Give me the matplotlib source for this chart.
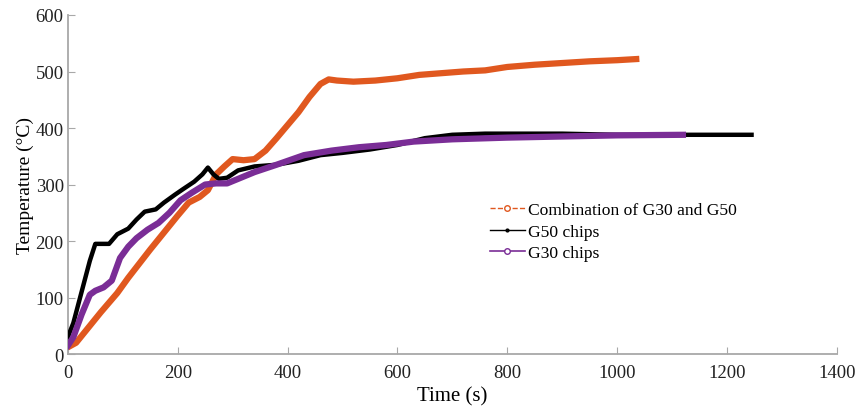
import matplotlib.pyplot as plt
from matplotlib.lines import Line2D

# Combination of G30 and G50
t_comb = [0, 15, 30, 60, 90, 110, 130, 150, 175, 200, 220, 240, 255, 270, 285, 300, 320,
          340, 360, 380, 400, 420, 440, 460, 475, 490, 520, 560, 600, 640, 680, 720, 760,
          800, 850, 900, 950, 1000, 1035]
T_comb = [12, 20, 38, 74, 108, 135, 160, 185, 215, 245, 268, 278, 290, 318, 332, 345, 343,
          345, 360, 382, 405, 428, 455, 478, 486, 484, 482, 484, 488, 494, 497, 500, 502,
          508, 512, 515, 518, 520, 522]

# G50 chips
t_g50 = [0, 10, 25, 40, 50, 60, 75, 90, 110, 125, 140, 160, 175, 195, 210, 230, 245, 255,
         265, 275, 290, 310, 340, 380, 420, 460, 500, 550, 600, 650, 700, 760, 800, 900,
         1000, 1100, 1245]
T_g50 = [30, 55, 110, 165, 195, 195, 195, 212, 222, 238, 252, 256, 268, 282, 292, 305, 318, 330,
         318, 310, 312, 325, 332, 335, 342, 352, 356, 362, 370, 382, 388, 390, 390, 390,
         388, 388, 388]

# G30 chips
t_g30 = [0, 10, 25, 40, 50, 65, 80, 95, 110, 125, 145, 165, 185, 205, 225, 250, 270, 290,
         310, 340, 380, 430, 480, 530, 580, 630, 700, 800, 900, 1000, 1120]
T_g30 = [15, 30, 70, 105, 112, 118, 130, 170, 190, 205, 220, 232, 250, 272, 285, 300, 302, 302,
         310, 322, 335, 352, 360, 366, 370, 376, 380, 383, 385, 387, 388]

orange = '#e0581f'
purple = '#7a2d96'

fig = plt.figure(figsize=(8.59, 4.10), dpi=100)
ax = fig.add_axes([0.079, 0.134, 0.895, 0.827])

ax.plot(t_g50, T_g50, color='black', lw=3.2, zorder=3, solid_joinstyle='round')
ax.plot(t_g30, T_g30, color=purple, lw=4.5, zorder=4, solid_joinstyle='round')
ax.plot(t_comb, T_comb, color=orange, lw=4.5, zorder=2, solid_joinstyle='round')

ax.set_xlim(0, 1400)
ax.set_ylim(0, 600)
ax.set_xticks(range(0, 1401, 200))
ax.set_yticks(range(0, 601, 100))

font = 'Liberation Serif'
for lab in ax.get_xticklabels() + ax.get_yticklabels():
    lab.set_fontfamily(font)
    lab.set_fontsize(13.5)
ax.set_xlabel('Time (s)', fontfamily=font, fontsize=15, labelpad=4)
ax.set_ylabel('Temperature (°C)', fontfamily=font, fontsize=14, labelpad=1)

for s in ['top', 'right']:
    ax.spines[s].set_visible(False)
for s in ['left', 'bottom']:
    ax.spines[s].set_color('#a8a8a8')
    ax.spines[s].set_linewidth(1.3)
ax.tick_params(direction='in', color='#a8a8a8', length=5, labelcolor='#222222')
ax.tick_params(axis='x', pad=7)
ax.tick_params(axis='y', pad=3)

handles = [
    Line2D([], [], color=orange, ls='--', lw=1, marker='o', ms=4, mfc='white'),
    Line2D([], [], color='black', ls='-', lw=1, marker='.', ms=4),
    Line2D([], [], color=purple, ls='-', lw=1.2, marker='o', ms=4, mfc='white'),
]
ax.legend(handles, ['Combination of G30 and G50', 'G50 chips', 'G30 chips'],
          loc='upper left', bbox_to_anchor=(0.528, 0.495), frameon=False,
          prop={'family': font, 'size': 12.6}, handlelength=2.0, handletextpad=0.2,
          labelspacing=0.3)

fig.savefig('out.png', dpi=100)
